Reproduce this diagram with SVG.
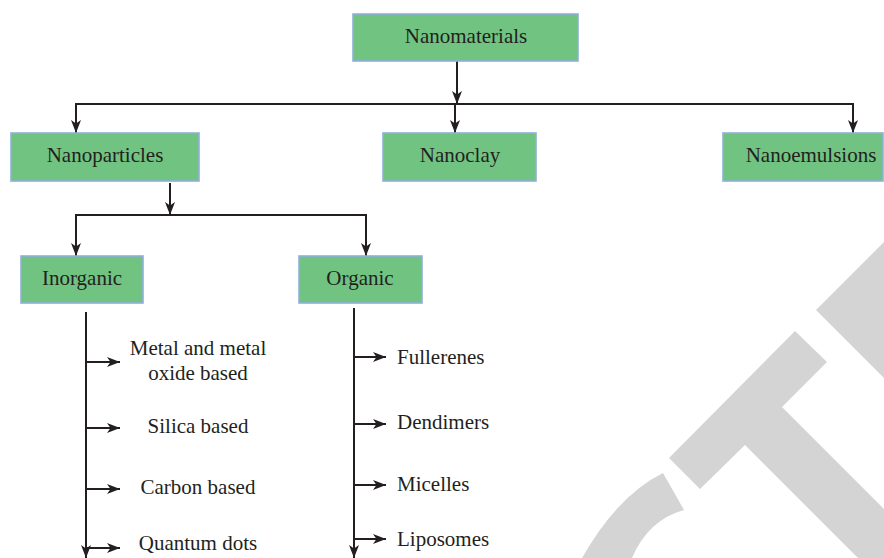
<svg xmlns="http://www.w3.org/2000/svg" width="884" height="558" viewBox="0 0 884 558">
<style>
.box{fill:#71c382;stroke:#8fb0da;stroke-width:1.6}
.lbl{font-family:"Liberation Serif","Times New Roman",serif;font-size:21px;fill:#231f20}
.mid{text-anchor:middle}
.con{fill:none;stroke:#231f20;stroke-width:2;marker-end:url(#ah)}
.ln{fill:none;stroke:#231f20;stroke-width:2}
.wm{fill:#d4d4d4}
</style>
<defs>
<marker id="ah" markerUnits="userSpaceOnUse" markerWidth="14" markerHeight="11" refX="13" refY="5" orient="auto">
<path d="M0,0 L13,5 L0,10 L3.5,5 z" fill="#231f20"/>
</marker>
</defs>
<rect width="884" height="558" fill="#ffffff"/>
<g id="watermark">
<polygon class="wm" points="884,242 816,310 884,378"/>
<polygon class="wm" points="795,331 827,362 782,407 884,509 884,558 858,558 745,445 700,489 669,458"/>
<path class="wm" d="M663,473 Q618,495 582,558 L632,558 Q648,520 684,510 Z"/>
</g>
<g id="connectors">
<path class="con" d="M457,61 V104"/>
<path class="ln" d="M76,104 H853"/>
<path class="con" d="M455,104 H76 V133"/>
<path class="con" d="M455,104 V133"/>
<path class="con" d="M455,104 H853 V133"/>
<path class="con" d="M170,183 V215"/>
<path class="con" d="M170,215 H76 V256"/>
<path class="con" d="M170,215 H366 V256"/>
<path class="con" d="M86,312 V558"/>
<path class="con" d="M86,362 H120"/>
<path class="con" d="M86,428 H120"/>
<path class="con" d="M86,489 H120"/>
<path class="con" d="M86,548 H120"/>
<path class="con" d="M354,308 V558"/>
<path class="con" d="M354,357 H386"/>
<path class="con" d="M354,424 H386"/>
<path class="con" d="M354,485 H386"/>
<path class="con" d="M354,539 H386"/>
</g>
<g id="n-nanomaterials">
<rect class="box" x="353" y="14" width="225" height="47"/>
<text class="lbl mid" x="466" y="43">Nanomaterials</text>
</g>
<g id="n-nanoparticles">
<rect class="box" x="11" y="133" width="188" height="48"/>
<text class="lbl mid" x="105" y="162">Nanoparticles</text>
</g>
<g id="n-nanoclay">
<rect class="box" x="383" y="133" width="153" height="48"/>
<text class="lbl mid" x="460" y="162">Nanoclay</text>
</g>
<g id="n-nanoemulsions">
<rect class="box" x="723" y="133" width="160" height="48"/>
<text class="lbl mid" x="811" y="162">Nanoemulsions</text>
</g>
<g id="n-inorganic">
<rect class="box" x="21" y="256" width="122" height="47"/>
<text class="lbl mid" x="82" y="285">Inorganic</text>
</g>
<g id="n-organic">
<rect class="box" x="299" y="256" width="123" height="47"/>
<text class="lbl mid" x="360" y="285">Organic</text>
</g>
<g id="n-metal">
<text class="lbl mid" x="198" y="355">Metal and metal</text>
<text class="lbl mid" x="198" y="380">oxide based</text>
</g>
<g id="n-silica"><text class="lbl mid" x="198" y="433">Silica based</text></g>
<g id="n-carbon"><text class="lbl mid" x="198" y="494">Carbon based</text></g>
<g id="n-quantum"><text class="lbl mid" x="198" y="550">Quantum dots</text></g>
<g id="n-fullerenes"><text class="lbl" x="397" y="364">Fullerenes</text></g>
<g id="n-dendimers"><text class="lbl" x="397" y="429">Dendimers</text></g>
<g id="n-micelles"><text class="lbl" x="397" y="491">Micelles</text></g>
<g id="n-liposomes"><text class="lbl" x="397" y="546">Liposomes</text></g>
</svg>
